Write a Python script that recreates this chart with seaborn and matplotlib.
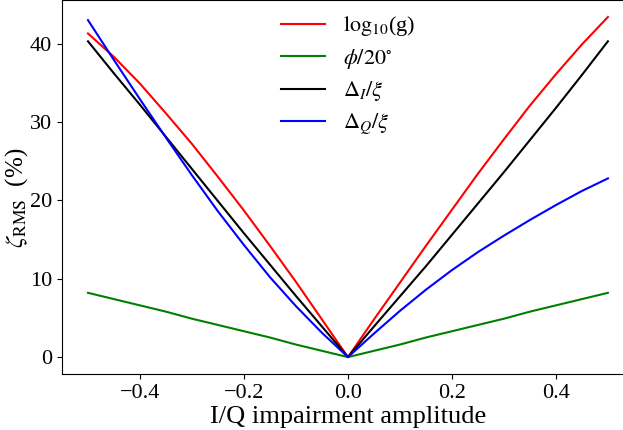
import numpy as np
import pandas as pd
import matplotlib
matplotlib.use("Agg")
import matplotlib.pyplot as plt
import seaborn as sns

# -----------------------------
# Data
# -----------------------------
amplitude = [-0.5, -0.45, -0.4, -0.35, -0.3, -0.25, -0.2, -0.15, -0.1, -0.05, 0.0,
             0.05, 0.1, 0.15, 0.2, 0.25, 0.3, 0.35, 0.4, 0.45, 0.5]

zeta_gain = [41.3, 38.3, 34.9, 31.1, 27.2, 23.0, 18.7, 14.2, 9.6, 4.8, 0.0,
             4.8, 9.5, 14.2, 18.8, 23.4, 27.8, 32.1, 36.1, 39.9, 43.4]
zeta_phase = [8.2, 7.4, 6.6, 5.8, 4.9, 4.1, 3.3, 2.5, 1.6, 0.8, 0.0,
              0.8, 1.6, 2.5, 3.3, 4.1, 4.9, 5.8, 6.6, 7.4, 8.2]
zeta_dc_i = [40.3, 36.2, 32.2, 28.1, 24.0, 19.9, 15.8, 11.8, 7.8, 3.9, 0.0,
             3.9, 7.75, 11.6, 15.6, 19.6, 23.6, 27.7, 31.8, 36.0, 40.3]
zeta_dc_q = [43.0, 37.9, 32.9, 28.0, 23.2, 18.6, 14.3, 10.2, 6.5, 3.1, 0.0,
             3.0, 5.9, 8.6, 11.1, 13.4, 15.5, 17.5, 19.4, 21.2, 22.8]

labels = [r"$\mathrm{log}_{10}$(g)", r"$\phi/20^{\circ}$", r"$\Delta_I/\xi$", r"$\Delta_Q/\xi$"]
colors = ["red", "green", "black", "blue"]

frames = []
for lab, vals in zip(labels, [zeta_gain, zeta_phase, zeta_dc_i, zeta_dc_q]):
    frames.append(pd.DataFrame({"amp": amplitude, "zeta": vals, "param": lab}))
df = pd.concat(frames, ignore_index=True)

# -----------------------------
# Style
# -----------------------------
plt.rcParams["font.family"] = ["Liberation Serif", "DejaVu Serif"]
plt.rcParams["mathtext.fontset"] = "stix"
plt.rcParams["font.size"] = 16

# -----------------------------
# Plot
# -----------------------------
fig = plt.figure(figsize=(6.23, 4.30), dpi=100)
ax = fig.add_axes([0.0995, 0.130, 0.918, 0.870])

sns.lineplot(data=df, x="amp", y="zeta", hue="param", hue_order=labels,
             palette=dict(zip(labels, colors)), linewidth=1.5, ax=ax)

ax.set_xticks([-0.4, -0.2, 0.0, 0.2, 0.4])
ax.set_yticks([0, 10, 20, 30, 40])
ax.tick_params(labelsize=16)
ax.set_xlabel("I/Q impairment amplitude", fontsize=19, labelpad=2)
ax.set_ylabel(r"$\zeta_{\rm RMS}$  (%)", fontsize=18)
ax.yaxis.set_label_coords(-0.056, 0.47)

ax.legend(loc="upper center", frameon=False, fontsize=16, handlelength=2.0,
          labelspacing=0.38, borderaxespad=0.25)

fig.savefig("out.png", dpi=100)
